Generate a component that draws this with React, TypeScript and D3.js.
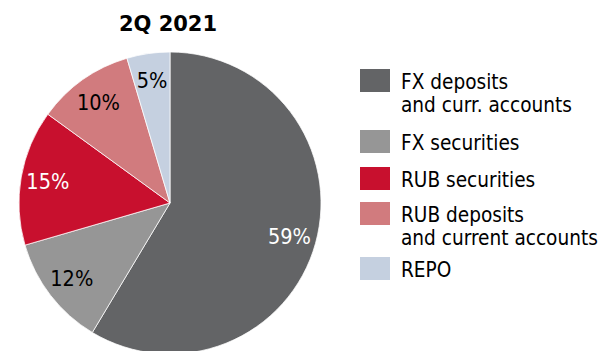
import React, { useEffect, useRef } from 'react';
import * as d3 from 'd3';

// 2Q 2021 structure
const categories = [
  'FX deposits and curr. accounts',
  'FX securities',
  'RUB securities',
  'RUB deposits and current accounts',
  'REPO',
];
const legendLines = [
  ['FX deposits', 'and curr. accounts'],
  ['FX securities'],
  ['RUB securities'],
  ['RUB deposits', 'and current accounts'],
  ['REPO'],
];
const values = [58.6, 11.9, 14.5, 10.4, 4.6];
const valueLabels = ['59%', '12%', '15%', '10%', '5%'];
const colors = ['#636466', '#969696', '#c8102e', '#d17b7e', '#c5d0e0'];
const labelColors = ['#ffffff', '#000000', '#ffffff', '#000000', '#000000'];

const W = 604;
const H = 351;
const FONT = '"DejaVu Sans Condensed", "DejaVu Sans", sans-serif';

export default function App() {
  const svgRef = useRef<SVGSVGElement>(null);

  useEffect(() => {
    if (!svgRef.current) return;
    const svg = d3.select(svgRef.current);
    svg.selectAll('*').remove();

    const cx = 170;
    const cy = 203;
    const radius = 151;

    svg.append('text')
      .attr('x', 168)
      .attr('y', 31)
      .attr('text-anchor', 'middle')
      .attr('font-family', '"DejaVu Sans", sans-serif')
      .attr('font-weight', 'bold')
      .attr('font-size', 21)
      .attr('fill', '#000')
      .text('2Q 2021');

    const pie = d3.pie<number>().sort(null).value(d => d);
    const arcs = pie(values);
    const arc = d3.arc<d3.PieArcDatum<number>>().innerRadius(0).outerRadius(radius);
    const labelArc = d3.arc<d3.PieArcDatum<number>>().innerRadius(124).outerRadius(124);

    const g = svg.append('g').attr('transform', `translate(${cx},${cy})`);

    g.selectAll('path.slice')
      .data(arcs)
      .join('path')
      .attr('class', 'slice')
      .attr('d', arc)
      .attr('fill', (_, i) => colors[i])
      .attr('stroke', '#ffffff')
      .attr('stroke-width', 0.75);

    g.selectAll('text.lbl')
      .data(arcs)
      .join('text')
      .attr('class', 'lbl')
      .attr('transform', d => `translate(${labelArc.centroid(d)})`)
      .attr('text-anchor', 'middle')
      .attr('dy', '0.36em')
      .attr('font-family', FONT)
      .attr('font-size', 21.5)
      .attr('fill', (_, i) => labelColors[i])
      .text((_, i) => valueLabels[i]);

    // legend
    const legendTops = [69, 130, 167, 202, 257];
    const lg = svg.append('g');
    categories.forEach((c, i) => {
      const top = legendTops[i];
      lg.append('rect')
        .attr('x', 360)
        .attr('y', top)
        .attr('width', 30)
        .attr('height', 23)
        .attr('fill', colors[i]);
      const t = lg.append('text')
        .attr('font-family', FONT)
        .attr('font-size', 20.6)
        .attr('fill', '#000');
      legendLines[i].forEach((line, j) => {
        t.append('tspan')
          .attr('x', 401)
          .attr('y', top + 20 + j * 23)
          .text(line);
      });
    });
  }, []);

  return (
    <svg
      ref={svgRef}
      width={W}
      height={H}
      style={{ position: 'absolute', left: 0, top: 0, background: '#fff' }}
    />
  );
}
